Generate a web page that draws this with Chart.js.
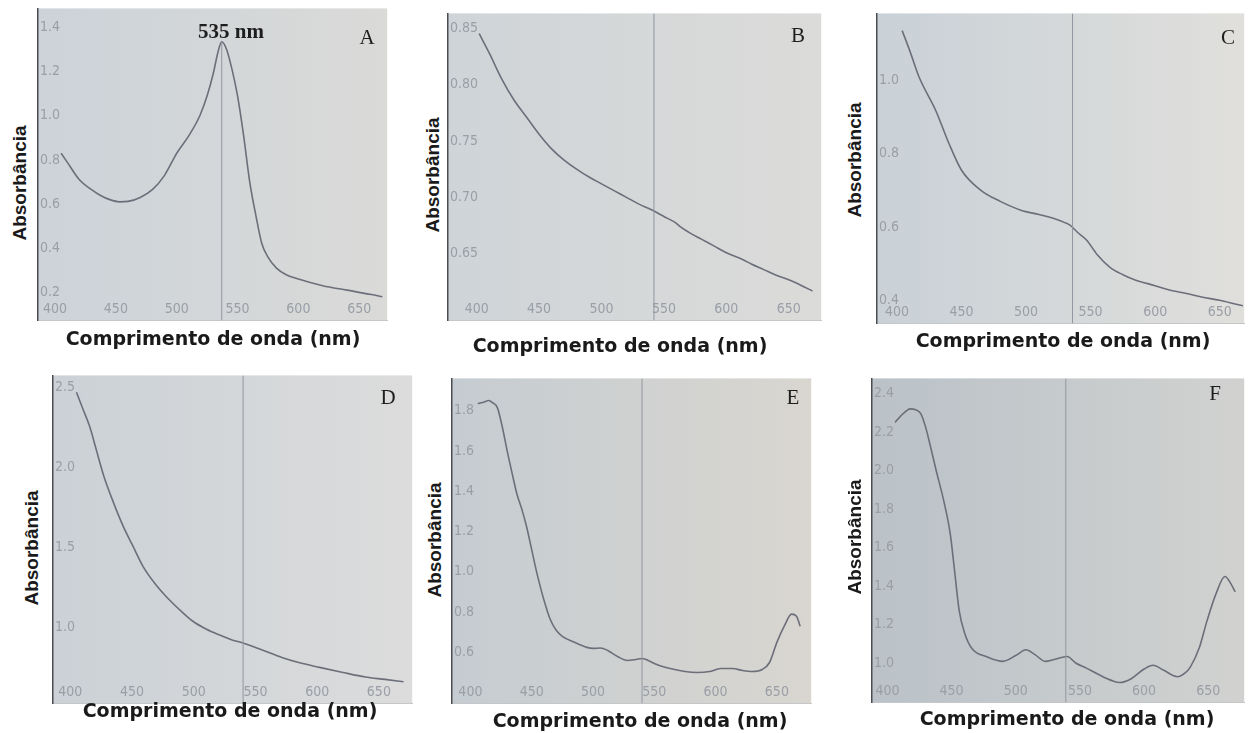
<!DOCTYPE html>
<html>
<head>
<meta charset="utf-8">
<script src="https://cdn.jsdelivr.net/npm/chart.js@4.4.1/dist/chart.umd.min.js"></script>
<style>
  body { margin: 0; background: #fff; width: 1250px; height: 733px; position: relative; overflow: hidden; }
  .box { position: absolute; }
  .xt { position: absolute; font: bold 19px "DejaVu Sans", sans-serif; color: #1a1a1a; white-space: nowrap; transform: translate(-50%, -50%); }
  .yt { position: absolute; font: bold 19px "Liberation Sans", Arial, sans-serif; color: #1a1a1a; white-space: nowrap; transform: translate(-50%, -50%) rotate(-90deg); }
  .lt { position: absolute; font: 21px "Liberation Serif", "DejaVu Serif", serif; color: #1e1e1e; transform: translate(-50%, -50%); }
  .pk { position: absolute; font: bold 21px "Liberation Serif", "DejaVu Serif", serif; color: #1e1e1e; white-space: nowrap; transform: translate(-50%, -50%); }
</style>
</head>
<body>

<script>
// Wavelength ticks shared by all panels
const xTicks = [400, 450, 500, 550, 600, 650];
const peakLabelNm = 535;
// cursor line position as it sits on each screen (A..F)
const cursorNm = [537, 542, 536, 540, 540, 539];

// Panel A
const nmA  = [405, 410, 420, 430, 437, 445, 453, 460, 470, 480, 490, 497, 500, 510, 519, 525, 530, 534, 537, 541, 545, 550, 555, 560, 565, 570, 575, 582, 590, 600, 620, 640, 660, 669];
const absA = [0.83, 0.79, 0.71, 0.665, 0.64, 0.62, 0.61, 0.612, 0.63, 0.665, 0.73, 0.80, 0.83, 0.91, 1.0, 1.09, 1.19, 1.29, 1.335, 1.30, 1.22, 1.09, 0.91, 0.70, 0.55, 0.42, 0.36, 0.31, 0.28, 0.26, 0.23, 0.21, 0.19, 0.18];
const yTicksA = [0.2, 0.4, 0.6, 0.8, 1.0, 1.2, 1.4];

// Panel B
const nmB  = [402, 410, 420, 430, 440, 450, 460, 470, 480, 490, 500, 510, 520, 530, 540, 550, 560, 563, 570, 580, 590, 600, 613, 620, 630, 640, 650, 660, 669];
const absB = [0.845, 0.828, 0.805, 0.786, 0.771, 0.756, 0.743, 0.733, 0.725, 0.718, 0.712, 0.706, 0.700, 0.694, 0.689, 0.683, 0.677, 0.674, 0.669, 0.663, 0.657, 0.651, 0.645, 0.641, 0.636, 0.631, 0.627, 0.622, 0.617];
const yTicksB = [0.65, 0.70, 0.75, 0.80, 0.85];

// Panel C
const nmC  = [404, 410, 417, 430, 440, 450, 465, 480, 496, 510, 521, 530, 534, 540, 547, 555, 565, 575, 585, 600, 611, 625, 636, 650, 662, 668];
const absC = [1.136, 1.08, 1.01, 0.918, 0.83, 0.755, 0.70, 0.67, 0.646, 0.634, 0.624, 0.612, 0.605, 0.585, 0.564, 0.525, 0.49, 0.47, 0.455, 0.44, 0.428, 0.418, 0.409, 0.40, 0.39, 0.385];
const yTicksC = [0.4, 0.6, 0.8, 1.0];

// Panel D
const nmD  = [405, 410, 416, 420, 427, 435, 443, 450, 459, 470, 478, 490, 499, 510, 520, 530, 541, 555, 572, 585, 602, 620, 639, 655, 670];
const absD = [2.47, 2.37, 2.25, 2.14, 1.95, 1.78, 1.63, 1.52, 1.38, 1.26, 1.19, 1.10, 1.04, 0.99, 0.955, 0.925, 0.90, 0.86, 0.81, 0.78, 0.75, 0.72, 0.69, 0.675, 0.66];
const yTicksD = [1.0, 1.5, 2.0, 2.5];

// Panel E
const nmE  = [406, 410, 415, 418, 422, 426, 430, 434, 438, 442, 446, 450, 454, 460, 465, 470, 475, 485, 495, 500, 506, 512, 520, 528, 535, 540, 545, 552, 563, 575, 585, 595, 604, 614, 622, 630, 638, 644, 650, 656, 662, 666, 669];
const absE = [1.835, 1.84, 1.85, 1.84, 1.815, 1.72, 1.60, 1.49, 1.385, 1.31, 1.22, 1.11, 1.00, 0.86, 0.766, 0.71, 0.68, 0.65, 0.625, 0.62, 0.622, 0.61, 0.58, 0.56, 0.565, 0.57, 0.56, 0.54, 0.52, 0.505, 0.50, 0.505, 0.52, 0.52, 0.51, 0.505, 0.515, 0.55, 0.65, 0.73, 0.79, 0.78, 0.73];
const yTicksE = [0.6, 0.8, 1.0, 1.2, 1.4, 1.6, 1.8];

// Panel F
const nmF  = [406, 410, 418, 422, 426, 430, 433, 438, 444, 449, 452, 456, 460, 466, 477, 490, 500, 508, 515, 523, 530, 540, 547, 555, 565, 575, 581, 590, 600, 607, 615, 626, 632, 636, 643, 649, 656, 663, 667, 671];
const absF = [2.25, 2.28, 2.32, 2.315, 2.295, 2.22, 2.14, 2.0, 1.84, 1.67, 1.50, 1.27, 1.16, 1.075, 1.035, 1.01, 1.04, 1.07, 1.045, 1.01, 1.02, 1.035, 1.00, 0.975, 0.94, 0.91, 0.90, 0.92, 0.97, 0.99, 0.965, 0.93, 0.95, 0.98, 1.08, 1.22, 1.36, 1.45, 1.42, 1.37];
const yTicksF = [1.0, 1.2, 1.4, 1.6, 1.8, 2.0, 2.2, 2.4];

// Layout of each panel: plot rect [x, y, w, h], axis ranges, background gradient, text positions
const panels = [
  { letter: 'A', nm: nmA, abs: absA, yTicks: yTicksA, dec: 1, rect: [38, 8, 350, 312],  xr: [386, 673], yr: [0.073, 1.486], bg: ['#ccd3d9', '#dadad8'], xt: [213, 338], yt: [20, 183],  lt: [367, 37], peak: true },
  { letter: 'B', nm: nmB, abs: absB, yTicks: yTicksB, dec: 2, rect: [448, 13, 374, 307], xr: [377, 676], yr: [0.591, 0.863], bg: ['#cfd4d8', '#dbdbd9'], xt: [620, 345], yt: [433, 175], lt: [798, 35] },
  { letter: 'C', nm: nmC, abs: absC, yTicks: yTicksC, dec: 1, rect: [877, 13, 368, 310], xr: [384.5, 669], yr: [0.337, 1.183], bg: ['#c9d1d7', '#e0dfdc'], xt: [1063, 340], yt: [855, 160], lt: [1228, 37] },
  { letter: 'D', nm: nmD, abs: absD, yTicks: yTicksD, dec: 1, rect: [53, 375, 360, 328], xr: [386, 677], yr: [0.525, 2.575], bg: ['#cbd1d6', '#dcdcdc'], xt: [230, 710], yt: [32, 548],  lt: [388, 397] },
  { letter: 'E', nm: nmE, abs: absE, yTicks: yTicksE, dec: 1, rect: [452, 378, 360, 325], xr: [385, 678], yr: [0.347, 1.96], bg: ['#c5ccd1', '#d9d6d0'], xt: [640, 720], yt: [435, 540], lt: [793, 397] },
  { letter: 'F', nm: nmF, abs: absF, yTicks: yTicksF, dec: 1, rect: [872, 378, 373, 324], xr: [388, 678], yr: [0.797, 2.478], bg: ['#bac2c8', '#d1d2d0'], xt: [1067, 718], yt: [855, 537], lt: [1215, 393] }
];

const tickFont = { family: '"Liberation Sans Narrow", "DejaVu Sans Condensed", "Roboto Condensed", "Liberation Sans", sans-serif', size: 14 };

// Fill the plot area with the grey screen colour
const bgPlugin = {
  id: 'screenBg',
  beforeDraw(chart, args, opts) {
    const { ctx, chartArea: a } = chart;
    const g = ctx.createLinearGradient(a.left, 0, a.right, 0);
    g.addColorStop(0, opts.colors[0]);
    g.addColorStop(1, opts.colors[1]);
    ctx.save();
    ctx.fillStyle = g;
    ctx.fillRect(a.left, a.top, a.right - a.left, a.bottom - a.top);
    ctx.restore();
  }
};

function addText(cls, text, pos) {
  const d = document.createElement('div');
  d.className = cls;
  d.textContent = text;
  d.style.left = pos[0] + 'px';
  d.style.top = pos[1] + 'px';
  document.body.appendChild(d);
}

// Move and size the canvas so that its chart area lands on the target rect
function fitChart(chart, rect) {
  const a = chart.chartArea;
  const box = chart.canvas.parentNode;
  const l = a.left, t = a.top, r = chart.width - a.right, b = chart.height - a.bottom;
  box.style.left = (rect[0] - l) + 'px';
  box.style.top = (rect[1] - t) + 'px';
  box.style.width = (rect[2] + l + r) + 'px';
  box.style.height = (rect[3] + t + b) + 'px';
  chart.resize();
}

panels.forEach((p, k) => {
  const box = document.createElement('div');
  box.className = 'box';
  box.style.left = p.rect[0] + 'px';
  box.style.top = p.rect[1] + 'px';
  box.style.width = (p.rect[2] + 20) + 'px';
  box.style.height = (p.rect[3] + 30) + 'px';
  const canvas = document.createElement('canvas');
  box.appendChild(canvas);
  document.body.appendChild(box);

  const markerTop = p.peak ? Math.max(...p.abs) : p.yr[1];

  const chart = new Chart(canvas, {
    type: 'line',
    data: {
      datasets: [
        {
          data: [{ x: cursorNm[k], y: p.yr[0] }, { x: cursorNm[k], y: markerTop }],
          borderColor: '#92979f',
          borderWidth: 1,
          pointRadius: 0
        },
        {
          data: p.nm.map((v, i) => ({ x: v, y: p.abs[i] })),
          borderColor: '#6c6e7a',
          borderWidth: 1.6,
          pointRadius: 0,
          cubicInterpolationMode: 'monotone'
        }
      ]
    },
    options: {
      responsive: true,
      maintainAspectRatio: false,
      animation: false,
      events: [],
      layout: { padding: 0 },
      plugins: {
        legend: { display: false },
        tooltip: { enabled: false },
        screenBg: { colors: p.bg }
      },
      scales: {
        x: {
          type: 'linear',
          min: p.xr[0],
          max: p.xr[1],
          afterBuildTicks: s => { s.ticks = xTicks.map(v => ({ value: v })); },
          grid: { display: false, drawTicks: false },
          border: { display: true, color: '#c4c6c8', width: 1 },
          ticks: {
            mirror: true,
            padding: 3,
            color: '#9a9ea6',
            font: tickFont,
            callback: v => String(v),
            maxRotation: 0
          }
        },
        y: {
          type: 'linear',
          min: p.yr[0],
          max: p.yr[1],
          afterBuildTicks: s => { s.ticks = p.yTicks.map(v => ({ value: v })); },
          grid: { display: false, drawTicks: false },
          border: { display: true, color: '#4a4c52', width: 1.5 },
          ticks: {
            mirror: true,
            padding: 2,
            color: '#9a9ea6',
            font: tickFont,
            callback: v => v.toFixed(p.dec)
          }
        }
      }
    },
    plugins: [bgPlugin]
  });

  fitChart(chart, p.rect);

  addText('xt', 'Comprimento de onda (nm)', p.xt);
  addText('yt', 'Absorbância', p.yt);
  addText('lt', p.letter, p.lt);
  if (p.peak) addText('pk', peakLabelNm + ' nm', [231, 31]);
});
</script>
</body>
</html>
